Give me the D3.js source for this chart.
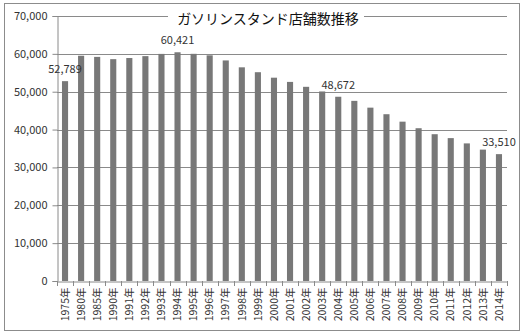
<!DOCTYPE html>
<html><head><meta charset="utf-8">
<script src="https://cdn.jsdelivr.net/npm/d3@7"></script>
<style>body{margin:0;background:#fff}svg{display:block}</style>
</head><body><svg id="c" width="525" height="336"></svg>
<script>
const title = "ガソリンスタンド店舗数推移";
const years = ["1975年","1980年","1985年","1990年","1991年","1992年","1993年","1994年","1995年","1996年","1997年","1998年","1999年","2000年","2001年","2002年","2003年","2004年","2005年","2006年","2007年","2008年","2009年","2010年","2011年","2012年","2013年","2014年"];
const stations = [52789,59500,59200,58600,58900,59400,59990,60421,60008,59615,58263,56444,55153,53704,52592,51294,50067,48672,47584,45792,44057,42090,40357,38777,37743,36349,34706,33510];
const labelledYears = ["1975年","1994年","2004年","2014年"];
const yTicks = [0,10000,20000,30000,40000,50000,60000,70000];

const svg = d3.select("#c");
const font = "'Noto Sans CJK JP','Noto Sans',sans-serif";
svg.append("rect").attr("x",4.5).attr("y",3.5).attr("width",515).attr("height",327)
  .attr("fill","#fff").attr("stroke","#8c8c8c");

const x = d3.scaleBand().domain(years).range([57,507]).paddingInner(0.62).paddingOuter(0.31);
const y = d3.scaleLinear().domain([0,70000]).range([281,16]);

// gridlines
svg.append("g").selectAll("line").data(yTicks.filter(d=>d>0)).join("line")
  .attr("x1",57).attr("x2",507).attr("y1",d=>Math.round(y(d))+0.5).attr("y2",d=>Math.round(y(d))+0.5)
  .attr("stroke","#8a8a8a").attr("stroke-width",1);

// bars
svg.append("g").selectAll("rect").data(years).join("rect")
  .attr("x",d=>x(d)).attr("width",x.bandwidth())
  .attr("y",(d,i)=>y(stations[i])).attr("height",(d,i)=>y(0)-y(stations[i]))
  .attr("fill","#787878");

// y axis
const ya = svg.append("g").attr("transform","translate(57.5,0)")
  .call(d3.axisLeft(y).tickValues(yTicks).tickFormat(d3.format(",")).tickSizeOuter(0).tickSize(5).tickPadding(5));
ya.select(".domain").attr("stroke","#8a8a8a");
ya.selectAll(".tick line").attr("stroke","#8a8a8a");
ya.selectAll("text").attr("font-family",font).attr("font-size","11px").attr("fill","#333");

// x axis
const xa = svg.append("g").attr("transform","translate(0,281.5)")
  .call(d3.axisBottom(x).tickSize(0).tickSizeOuter(0));
xa.select(".domain").attr("stroke","#8a8a8a");
xa.selectAll("text").attr("font-family",font).attr("font-size","10.5px").attr("fill","#333")
  .attr("transform","rotate(-90)").attr("text-anchor","end").attr("dy","0.35em").attr("x",-6).attr("y",0);
// category boundary ticks
const step = x.step();
svg.append("g").selectAll("line").data(d3.range(years.length+1)).join("line")
  .attr("x1",i=>Math.round(57+i*step)+0.5).attr("x2",i=>Math.round(57+i*step)+0.5)
  .attr("y1",281).attr("y2",286).attr("stroke","#8a8a8a");

// data labels
svg.append("g").selectAll("text").data(labelledYears).join("text")
  .attr("x",d=>x(d)+x.bandwidth()/2)
  .attr("y",d=>y(stations[years.indexOf(d)]) - 8)
  .attr("text-anchor","middle").attr("font-family",font).attr("font-size","11px").attr("fill","#333")
  .text(d=>d3.format(",")(stations[years.indexOf(d)]));

// title with white background
const tg = svg.append("g");
tg.append("rect").attr("x",168).attr("y",6).attr("width",196).attr("height",24).attr("fill","#fff");
tg.append("text").attr("x",268).attr("y",24).attr("text-anchor","middle")
  .attr("font-family",font).attr("font-size","14px").attr("fill","#111").text(title);
</script></body></html>
